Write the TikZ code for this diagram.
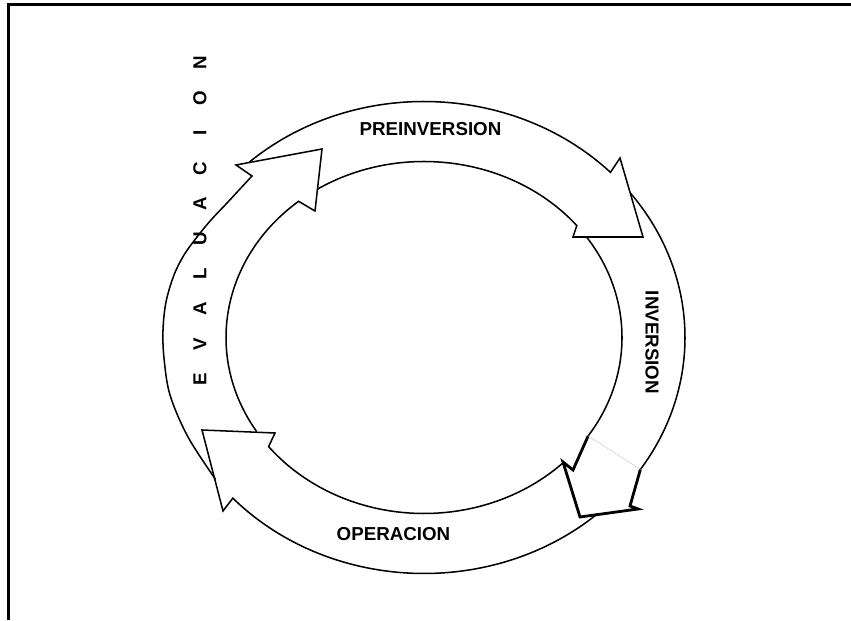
\documentclass[tikz,border=0pt]{standalone}
\usepackage{fontspec}
\setmainfont{Liberation Sans}
\usepackage{tikz}
\usetikzlibrary{calc}
\tikzset{
  ring/.style={line width=1.3pt, line join=miter},
  ringthick/.style={line width=2.4pt, line join=miter},
  seam/.style={gray!45, line width=0.4pt},
  frameline/.style={line width=2.6pt},
  stage/.style={font=\fontsize{16}{19}\selectfont\bfseries, inner sep=0pt},
}

\begin{document}
\begin{tikzpicture}[x=0.03cm, y=0.03cm]
\useasboundingbox (0,0) rectangle (851,620);
\coordinate (c) at (424,282.5);
% frame (top and left only)
\coordinate (f0) at (8.5,0);
\coordinate (f1) at (8.5,615.5);
\coordinate (f2) at (851,615.5);
\draw[frameline] (f0) -- (f1) -- (f2);

% preinversion
\draw[ring] ($(c)+(132:261 and 236)$) arc[start angle=132, end angle=44.4, x radius=261, y radius=236]
  -- (620,462) -- (643,383) -- (573,383)
  -- ($(c)+(39.5:198 and 176)$) arc[start angle=39.5, end angle=122.6, x radius=198, y radius=176];

% inversion
\draw[ring] ($(c)+(37.7:261 and 236)$) arc[start angle=37.7, end angle=-34, x radius=261, y radius=236] coordinate (invo);
\draw[ring] ($(c)+(34.8:198 and 176)$) arc[start angle=34.8, end angle=-34, x radius=198, y radius=176] coordinate (invi);
\draw[ringthick] (invo) -- (630,114) -- (638,111) -- (580,103) -- (563,158) -- (573,150) -- (invi);
\draw[seam] (invi) -- (invo);

% operacion
\draw[ring] ($(c)+(-48.4:261 and 236)$) arc[start angle=-48.4, end angle=-137.1, x radius=261, y radius=236]
  -- (223,109) -- (202,190) -- (275,187)
  -- ($(c)+(-141.7:198 and 176)$) arc[start angle=-141.7, end angle=-45.5, x radius=198, y radius=176];

% evaluacion
\draw[ring] plot[smooth, tension=0.55] coordinates {(215.6,140.5) (188,183) (170,225) (164,262) (163,290) (166,318) (174,345) (184,365) (197,383) (211,400) (227,417) (252,444)}
  -- (236,455) -- (322,471) -- (315,409)
  -- ($(c)+(129.3:198 and 176)$) arc[start angle=129.3, end angle=212.3, x radius=198, y radius=176];

% labels
\node[stage] (pre) at (430.5,491) {PREINVERSION};
\node[stage, rotate=-90] (inv) at (652,277.5) {INVERSION};
\node[stage] (ope) at (393.5,86) {OPERACION};
\foreach \l [count=\i from 0] in {E,V,A,L,U,A,C,I,O,N}
  \node[stage, rotate=90] (ev\i) at (200,241+35.1*\i) {\l};
\end{tikzpicture}
\end{document}
